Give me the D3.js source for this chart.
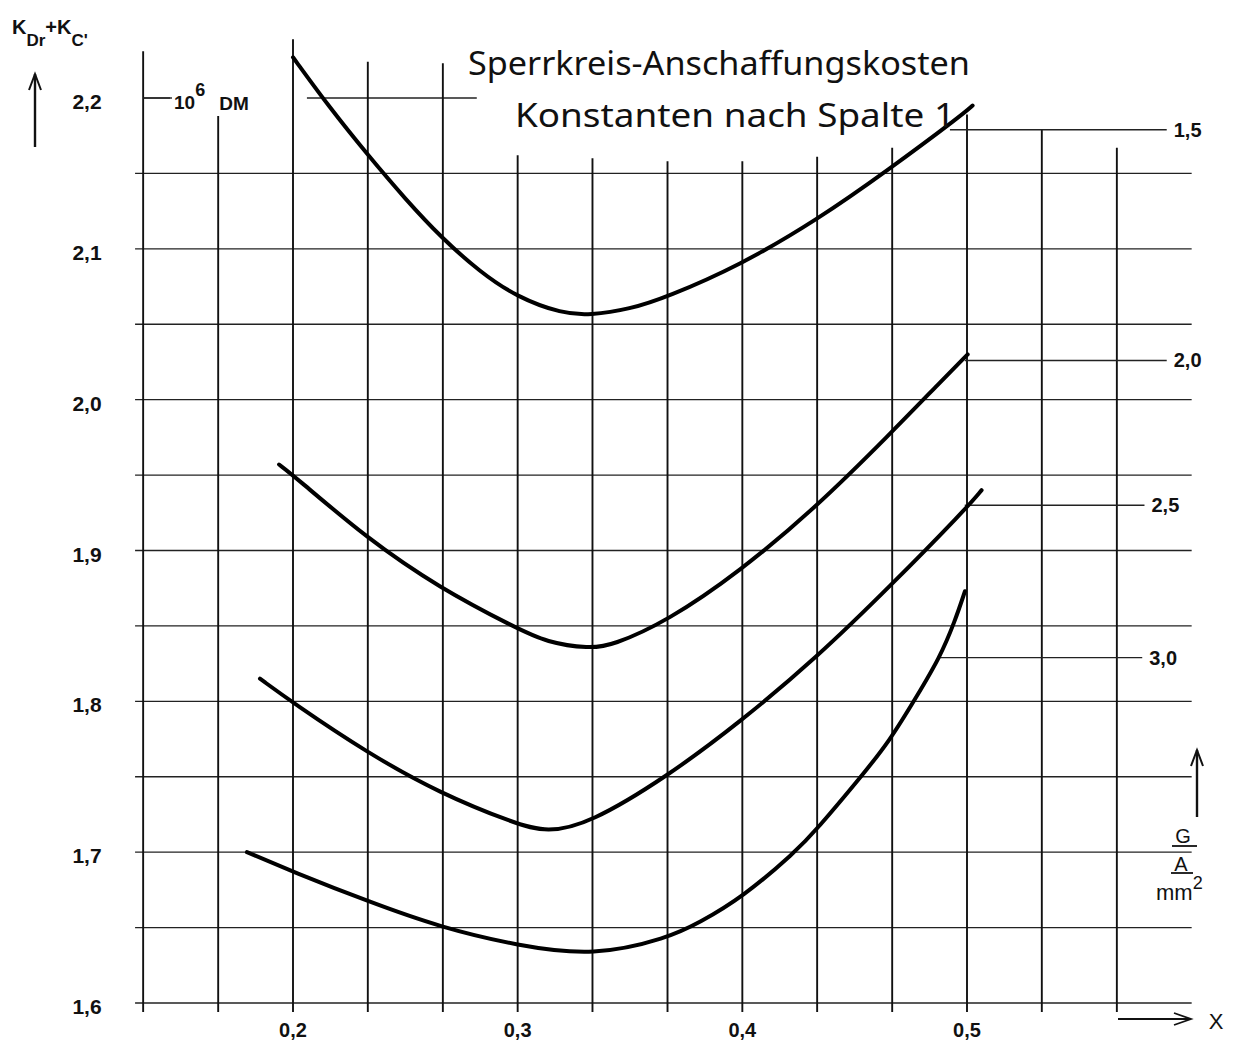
<!DOCTYPE html>
<html>
<head>
<meta charset="utf-8">
<script src="https://cdn.jsdelivr.net/npm/d3@7"></script>
<style>
  html, body { margin: 0; padding: 0; background: #fff; }
  svg { display: block; }
</style>
</head>
<body>
<svg id="chart" width="1240" height="1046"></svg>
<script>
// ---------- data ----------
const yTicks = [1.6, 1.7, 1.8, 1.9, 2.0, 2.1, 2.2];
const yTickLabels = ["1,6", "1,7", "1,8", "1,9", "2,0", "2,1", "2,2"];
const xTicks = [0.2, 0.3, 0.4, 0.5];
const xTickLabels = ["0,2", "0,3", "0,4", "0,5"];

// vertical grid lines (x values) and the K value where each one starts at the top
const vGridX   = [0.1333, 0.1667, 0.2, 0.2333, 0.2667, 0.3, 0.3333, 0.3667, 0.4, 0.4333, 0.4667, 0.5, 0.5333, 0.5667];
const vGridTop = [2.231, 2.188, 2.239, 2.224, 2.223, 2.162, 2.160, 2.158, 2.158, 2.161, 2.167, 2.189, 2.179, 2.167];
// horizontal grid lines (K values)
const hGridY = [1.6, 1.65, 1.7, 1.75, 1.8, 1.85, 1.9, 1.95, 2.0, 2.05, 2.1, 2.15];
// partial line at 2,2 : [x0, x1]
const topLineSegments = [[0.1333, 0.1453], [0.2062, 0.2818]];

// parameter (G / A/mm²) labels on the right: label, K level, x start, x end
const paramNames  = ["1,5", "2,0", "2,5", "3,0"];
const paramLevel  = [2.179, 2.026, 1.930, 1.829];
const paramStart  = [0.4924, 0.4990, 0.4990, 0.4880];
const paramEnd    = [0.5889, 0.5889, 0.5790, 0.5780];

// curves: [x, K]
const curve15 = [[0.2,2.227],[0.2156,2.195],[0.2334,2.162],[0.25,2.133],[0.2663,2.107],[0.283,2.085],[0.2996,2.068],[0.32,2.057],[0.332,2.056],[0.35,2.060],[0.3664,2.068],[0.3988,2.089],[0.4331,2.119],[0.4647,2.152],[0.498,2.189],[0.5025,2.195]];
const curve20 = [[0.1938,1.957],[0.2,1.950],[0.2329,1.908],[0.2654,1.875],[0.2988,1.849],[0.313,1.839],[0.332,1.835],[0.342,1.837],[0.3664,1.853],[0.3988,1.886],[0.4331,1.929],[0.4656,1.977],[0.489,2.013],[0.5003,2.030]];
const curve25 = [[0.1853,1.815],[0.2,1.799],[0.2329,1.766],[0.2654,1.739],[0.2988,1.719],[0.313,1.713],[0.332,1.719],[0.3664,1.750],[0.3988,1.786],[0.4331,1.829],[0.4656,1.876],[0.4991,1.927],[0.5065,1.940]];
const curve30 = [[0.1795,1.700],[0.2,1.687],[0.234,1.667],[0.266,1.650],[0.3,1.638],[0.334,1.631],[0.3668,1.643],[0.3806,1.653],[0.4,1.670],[0.4235,1.700],[0.4331,1.715],[0.4523,1.749],[0.4657,1.774],[0.4775,1.803],[0.4879,1.829],[0.4946,1.853],[0.4991,1.873]];
const curves = [curve15, curve20, curve25, curve30];

// ---------- drawing ----------
const svg = d3.select("#chart");
svg.append("rect").attr("width", 1240).attr("height", 1046).attr("fill", "#fff");

const x = d3.scaleLinear().domain([0.2, 0.5]).range([293, 967]);
const y = d3.scaleLinear().domain([1.6, 2.2]).range([1003, 98]);

const labelFont = "'Liberation Sans Narrow', 'Liberation Sans', sans-serif";

// horizontal grid
const hX0 = 0.1297, hX1 = 0.6;
svg.append("g").selectAll("line").data(hGridY).join("line")
  .attr("x1", x(hX0)).attr("x2", x(hX1))
  .attr("y1", d => y(d)).attr("y2", d => y(d))
  .attr("stroke", "#222").attr("stroke-width", 1.4);

svg.append("g").selectAll("line").data(topLineSegments).join("line")
  .attr("x1", d => x(d[0])).attr("x2", d => x(d[1]))
  .attr("y1", y(2.2)).attr("y2", y(2.2))
  .attr("stroke", "#222").attr("stroke-width", 1.4);

// vertical grid
const vBottom = 1.594;
svg.append("g").selectAll("line").data(vGridX).join("line")
  .attr("x1", d => x(d)).attr("x2", d => x(d))
  .attr("y1", (d, i) => y(vGridTop[i])).attr("y2", y(vBottom))
  .attr("stroke", "#111").attr("stroke-width", 1.9);

// parameter label lines
const pg = svg.append("g");
paramNames.forEach((n, i) => {
  pg.append("line")
    .attr("x1", x(paramStart[i])).attr("x2", x(paramEnd[i]))
    .attr("y1", y(paramLevel[i])).attr("y2", y(paramLevel[i]))
    .attr("stroke", "#222").attr("stroke-width", 1.4);
  pg.append("text")
    .attr("x", x(paramEnd[i]) + 7).attr("y", y(paramLevel[i]) + 7)
    .attr("font-family", labelFont).attr("font-weight", "bold")
    .attr("font-size", 20).attr("fill", "#111").text(n);
});

// curves
const line = d3.line().x(d => x(d[0])).y(d => y(d[1])).curve(d3.curveBasis);
svg.append("g").selectAll("path").data(curves).join("path")
  .attr("d", line).attr("fill", "none")
  .attr("stroke", "#000").attr("stroke-width", 4).attr("stroke-linecap", "round");

// y tick labels
svg.append("g").selectAll("text").data(yTicks).join("text")
  .attr("x", 87).attr("y", d => y(d) + 11)
  .attr("text-anchor", "middle")
  .attr("font-family", labelFont).attr("font-weight", "bold")
  .attr("font-size", 21).attr("fill", "#111")
  .text((d, i) => yTickLabels[i]);

// x tick labels
svg.append("g").selectAll("text").data(xTicks).join("text")
  .attr("x", d => x(d)).attr("y", 1037)
  .attr("text-anchor", "middle")
  .attr("font-family", labelFont).attr("font-weight", "bold")
  .attr("font-size", 20).attr("fill", "#111")
  .text((d, i) => xTickLabels[i]);

// title
const titleFont = "'Noto Sans', 'DejaVu Sans', sans-serif";
svg.append("text").attr("x", 468).attr("y", 75)
  .attr("font-family", titleFont).attr("font-size", 32).attr("fill", "#111")
  .attr("textLength", 502).attr("lengthAdjust", "spacingAndGlyphs")
  .text("Sperrkreis-Anschaffungskosten");
svg.append("text").attr("x", 515).attr("y", 127)
  .attr("font-family", titleFont).attr("font-size", 32).attr("fill", "#111")
  .attr("textLength", 440).attr("lengthAdjust", "spacingAndGlyphs")
  .text("Konstanten nach Spalte 1");

// y axis label K_Dr + K_C'
const yl = svg.append("text").attr("x", 12).attr("y", 34)
  .attr("font-family", labelFont).attr("font-weight", "bold")
  .attr("font-size", 20).attr("fill", "#111");
yl.append("tspan").text("K");
yl.append("tspan").attr("dy", 12).attr("font-size", 17).text("Dr");
yl.append("tspan").attr("dy", -12).text("+K");
yl.append("tspan").attr("dy", 12).attr("font-size", 17).text("C'");

// arrows
function arrowUp(g, cx, yTop, yBot) {
  g.append("line").attr("x1", cx).attr("x2", cx).attr("y1", yTop).attr("y2", yBot)
    .attr("stroke", "#111").attr("stroke-width", 2.4);
  g.append("path").attr("d", `M${cx - 6},${yTop + 16} L${cx},${yTop} L${cx + 6},${yTop + 16}`)
    .attr("fill", "none").attr("stroke", "#111").attr("stroke-width", 2);
}
const ag = svg.append("g");
arrowUp(ag, 35, 74, 147);
arrowUp(ag, 1197, 750, 817);

// x arrow
ag.append("line").attr("x1", 1118).attr("x2", 1190).attr("y1", 1019).attr("y2", 1019)
  .attr("stroke", "#111").attr("stroke-width", 1.8);
ag.append("path").attr("d", "M1174,1013 L1191,1019 L1174,1025")
  .attr("fill", "none").attr("stroke", "#111").attr("stroke-width", 1.8);
svg.append("text").attr("x", 1216).attr("y", 1029).attr("text-anchor", "middle")
  .attr("font-family", labelFont).attr("font-size", 22).attr("fill", "#111").text("X");

// 10^6 DM
ag.append("line").attr("x1", x(0.1333)).attr("x2", 172).attr("y1", y(2.2)).attr("y2", y(2.2))
  .attr("stroke", "#222").attr("stroke-width", 1.4);
const dm = svg.append("text").attr("x", 174).attr("y", 109)
  .attr("font-family", labelFont).attr("font-weight", "bold")
  .attr("font-size", 19).attr("fill", "#111");
dm.append("tspan").text("10");
dm.append("tspan").attr("dy", -13).attr("font-size", 18).text("6");
dm.append("tspan").attr("dy", 14).attr("dx", 14).text("DM");

// unit G / A/mm²
const ug = svg.append("g").attr("font-family", labelFont).attr("fill", "#111");
ug.append("text").attr("x", 1183).attr("y", 843).attr("text-anchor", "middle").attr("font-size", 20).text("G");
ug.append("line").attr("x1", 1172).attr("x2", 1197).attr("y1", 846).attr("y2", 846).attr("stroke", "#111").attr("stroke-width", 1.8);
ug.append("text").attr("x", 1181).attr("y", 871).attr("text-anchor", "middle").attr("font-size", 20).text("A");
ug.append("line").attr("x1", 1171).attr("x2", 1193).attr("y1", 873).attr("y2", 873).attr("stroke", "#111").attr("stroke-width", 1.8);
const mm = ug.append("text").attr("x", 1156).attr("y", 900).attr("font-size", 22);
mm.append("tspan").text("mm");
mm.append("tspan").attr("dy", -11).attr("font-size", 18).text("2");
</script>
</body>
</html>
